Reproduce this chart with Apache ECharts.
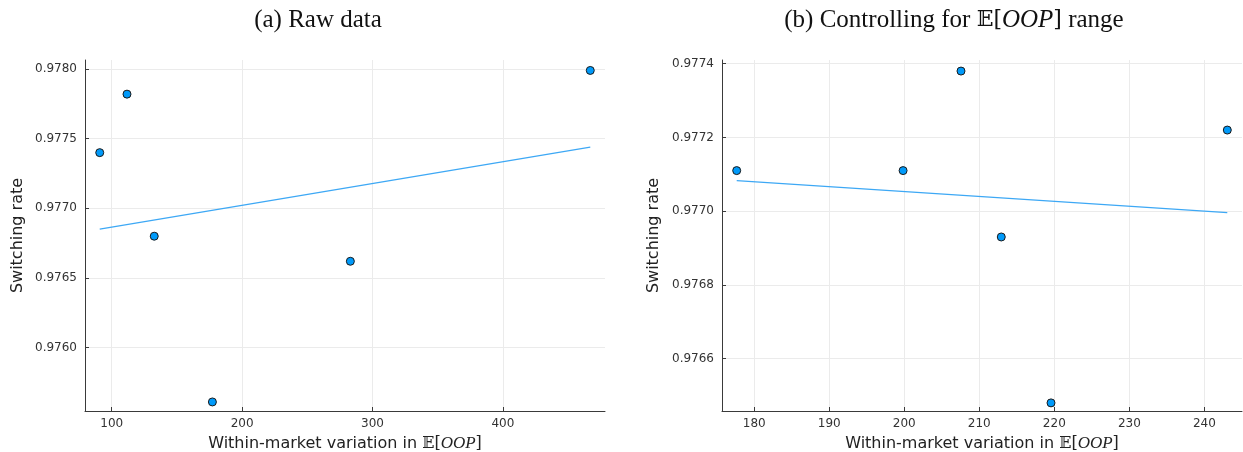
<!DOCTYPE html>
<html>
<head>
<meta charset="utf-8">
<script src="https://cdn.jsdelivr.net/npm/echarts@6/dist/echarts.min.js"></script>
<style>
  html, body { margin: 0; padding: 0; background: #fff; }
  #chart { width: 1243px; height: 452px; }
</style>
</head>
<body>
<div id="chart"></div>
<script>
// Panel (a): raw data
const xA = [90.8, 111.7, 132.6, 177.2, 283.0, 467.0];
const yA = [0.97740, 0.97782, 0.97680, 0.97561, 0.97662, 0.97799];
const fitXA = [90.8, 467.0];
const fitYA = [0.976851, 0.97744];
const xTicksA = [100, 200, 300, 400];
const yTicksA = [0.9760, 0.9765, 0.9770, 0.9775, 0.9780];

// Panel (b): controlling for E[OOP] range
const xB = [177.66, 199.84, 207.56, 212.93, 219.56, 243.06];
const yB = [0.97711, 0.97711, 0.97738, 0.97693, 0.97648, 0.97722];
const fitXB = [177.66, 243.06];
const fitYB = [0.977083, 0.976996];
const xTicksB = [180, 190, 200, 210, 220, 230, 240];
const yTicksB = [0.9766, 0.9768, 0.9770, 0.9772, 0.9774];

const pts = (xs, ys) => xs.map((x, i) => [x, ys[i]]);

const axisColor = '#3a3a3a';
const gridColor = '#ebebeb';
const sans = 'DejaVu Sans';

function xAxis(idx, min, max, ticks) {
  return {
    type: 'value', gridIndex: idx, min: min, max: max,
    name: '{t|Within-market variation in }{m|𝔼[}{i|OOP}{m|]}',
    nameLocation: 'middle', nameGap: 21,
    nameTextStyle: {
      rich: {
        t: { fontFamily: sans, fontSize: 16, color: '#222' },
        m: { fontFamily: 'DejaVu Serif', fontSize: 16, color: '#222' },
        i: { fontFamily: 'Liberation Serif', fontStyle: 'italic', fontSize: 17, color: '#222' }
      }
    },
    axisLine: { show: true, onZero: false, lineStyle: { color: axisColor, width: 1 } },
    axisTick: { show: true, inside: true, length: 4, customValues: ticks, lineStyle: { color: axisColor } },
    axisLabel: { customValues: ticks, fontFamily: sans, fontSize: 12, color: '#333', margin: 7,
                 formatter: v => String(Math.round(v)) },
    splitLine: { show: true, lineStyle: { color: gridColor, width: 1 } }
  };
}
function yAxis(idx, min, max, ticks, gap) {
  return {
    type: 'value', gridIndex: idx, min: min, max: max,
    name: 'Switching rate', nameLocation: 'middle', nameGap: gap,
    nameTextStyle: { fontFamily: sans, fontSize: 16, color: '#222' },
    axisLine: { show: true, onZero: false, lineStyle: { color: axisColor, width: 1 } },
    axisTick: { show: true, inside: true, length: 4, customValues: ticks, lineStyle: { color: axisColor } },
    axisLabel: { customValues: ticks, fontFamily: sans, fontSize: 12, color: '#333', margin: 8,
                 formatter: v => v.toFixed(4) },
    splitLine: { show: true, lineStyle: { color: gridColor, width: 1 } }
  };
}

const scatterStyle = {
  symbol: 'circle', symbolSize: 8,
  itemStyle: { color: '#009AFA', borderColor: '#1a1a1a', borderWidth: 1, opacity: 1 }
};
const lineStyle = { color: '#3DA8F5', width: 1.2 };

const option = {
  animation: false,
  backgroundColor: '#fff',
  title: [
    { text: '(a) Raw data', left: 313, top: 3, textAlign: 'center',
      textStyle: { fontFamily: 'Liberation Serif', fontWeight: 'normal', fontSize: 25, color: '#111' } },
    { text: '{t|(b) Controlling for }{m|𝔼[}{i|OOP}{m|]}{t| range}', left: 949, top: 3, textAlign: 'center',
      textStyle: {
        fontWeight: 'normal',
        rich: {
          t: { fontFamily: 'Liberation Serif', fontWeight: 'normal', fontSize: 25, color: '#111' },
          m: { fontFamily: 'DejaVu Serif', fontWeight: 'normal', fontSize: 22, color: '#111' },
          i: { fontFamily: 'Liberation Serif', fontWeight: 'normal', fontStyle: 'italic', fontSize: 25, color: '#111' }
        }
      } }
  ],
  grid: [
    { left: 85, top: 60, width: 520, height: 351, containLabel: false, outerBoundsMode: 'none' },
    { left: 722, top: 60, width: 520, height: 351, containLabel: false, outerBoundsMode: 'none' }
  ],
  xAxis: [
    xAxis(0, 79.5, 478.3, xTicksA),
    xAxis(1, 175.70, 245.02, xTicksB)
  ],
  yAxis: [
    yAxis(0, 0.975545, 0.978065, yTicksA, 59),
    yAxis(1, 0.976458, 0.977410, yTicksB, 60)
  ],
  series: [
    { type: 'line', xAxisIndex: 0, yAxisIndex: 0, data: pts(fitXA, fitYA), showSymbol: false,
      symbol: 'none', lineStyle: lineStyle, z: 2 },
    Object.assign({ type: 'scatter', xAxisIndex: 0, yAxisIndex: 0, data: pts(xA, yA), z: 3 }, scatterStyle),
    { type: 'line', xAxisIndex: 1, yAxisIndex: 1, data: pts(fitXB, fitYB), showSymbol: false,
      symbol: 'none', lineStyle: lineStyle, z: 2 },
    Object.assign({ type: 'scatter', xAxisIndex: 1, yAxisIndex: 1, data: pts(xB, yB), z: 3 }, scatterStyle)
  ]
};

const chart = echarts.init(document.getElementById('chart'), null, { renderer: 'canvas' });
chart.setOption(option);
</script>
</body>
</html>
